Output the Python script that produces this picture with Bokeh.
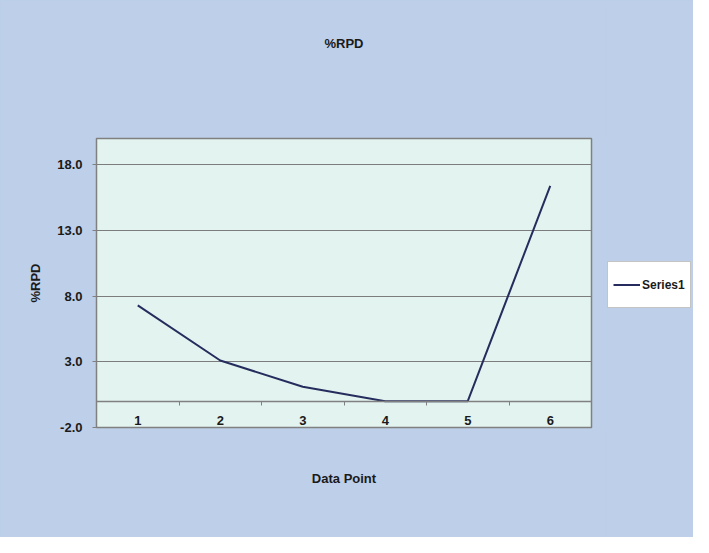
from bokeh.plotting import figure
from bokeh.layouts import row
from bokeh.models import FixedTicker, NumeralTickFormatter, LinearAxis, Legend, LegendItem, Range1d
from bokeh.embed import file_html
from bokeh.resources import INLINE

# ---- data ----
title_text = "%RPD"
x_title = "Data Point"
y_title = "%RPD"
series_name = "Series1"
data_points = [1, 2, 3, 4, 5, 6]
rpd_values = [7.3, 3.1, 1.1, 0.0, 0.0, 16.4]
y_ticks = [-2, 3, 8, 13, 18]

FONT = "Liberation Sans"
BG = "#bdcfe9"
PLOT_BG = "#e3f3ef"
GRID = "#7c7c7c"
LINE = "#262d5e"
TXT = "#1a1a1a"

p = figure(width=605, height=537, output_backend="svg", toolbar_location=None,
           x_range=Range1d(0.5, 6.5), y_range=Range1d(-2, 20),
           min_border_left=96, min_border_right=14, min_border_top=138, min_border_bottom=110)
p.background_fill_color = PLOT_BG
p.border_fill_color = BG
p.outline_line_color = "#808080"
p.outline_line_width = 1.5

r = p.line(data_points, rpd_values, line_color=LINE, line_width=2)

xa = p.xaxis[0]
ya = p.yaxis[0]


def label_axis(text, standoff):
    ax = LinearAxis(ticker=FixedTicker(ticks=[], minor_ticks=[]))
    ax.axis_line_color = None
    ax.major_tick_out = 0
    ax.major_tick_in = 0
    ax.minor_tick_out = 0
    ax.minor_tick_in = 0
    ax.major_label_standoff = 0
    ax.axis_label = text
    ax.axis_label_standoff = standoff
    ax.axis_label_text_font = FONT
    ax.axis_label_text_font_style = "bold"
    ax.axis_label_text_font_size = "13px"
    ax.axis_label_text_color = TXT
    return ax


# x axis drawn at y = 0
xa.fixed_location = 0
xa.ticker = FixedTicker(ticks=data_points, minor_ticks=[1.5, 2.5, 3.5, 4.5, 5.5])
xa.major_label_overrides = {v: str(v) for v in data_points}
xa.major_tick_in = 0
xa.major_tick_out = 0
xa.minor_tick_in = 0
xa.minor_tick_out = 4
xa.minor_tick_line_color = "#808080"
xa.axis_line_color = "#808080"
xa.axis_line_width = 1.5
xa.major_label_standoff = 11
xa.major_label_text_font = FONT
xa.major_label_text_font_style = "bold"
xa.major_label_text_font_size = "13px"
xa.major_label_text_color = TXT

ya.ticker = FixedTicker(ticks=y_ticks, minor_ticks=[])
ya.formatter = NumeralTickFormatter(format="0.0")
ya.major_tick_in = 0
ya.major_tick_out = 4
ya.major_tick_line_color = "#808080"
ya.axis_line_color = "#808080"
ya.major_label_standoff = 10
ya.major_label_text_font = FONT
ya.major_label_text_font_style = "bold"
ya.major_label_text_font_size = "13px"
ya.major_label_text_color = TXT
ya.axis_label = y_title
ya.axis_label_standoff = 11
ya.axis_label_text_font = FONT
ya.axis_label_text_font_style = "bold"
ya.axis_label_text_font_size = "13px"
ya.axis_label_text_color = TXT

# chart title (above) and x axis title (below)
p.add_layout(label_axis(title_text, 88), "above")
p.add_layout(label_axis(x_title, 43), "below")

p.xgrid.grid_line_color = None
p.ygrid.ticker = FixedTicker(ticks=y_ticks)
p.ygrid.grid_line_color = GRID
p.ygrid.grid_line_width = 1.2

# legend panel at the right (its frame is aligned with the main plot's frame)
q = figure(width=88, height=537, output_backend="svg", toolbar_location=None,
           x_range=Range1d(0, 1), y_range=Range1d(0, 1),
           min_border_left=0, min_border_right=0, min_border_top=0, min_border_bottom=0,
           x_axis_location=None, y_axis_location=None)
q.background_fill_color = None
q.border_fill_color = BG
q.outline_line_color = None
q.xgrid.visible = False
q.ygrid.visible = False
# legend swatch renderer (kept outside the visible range)
r_leg = q.line([-5, -4], [-5, -4], line_color=LINE, line_width=2)

legend = Legend(items=[LegendItem(label=series_name, renderers=[r_leg])], location=(2, 119))
legend.background_fill_color = "white"
legend.background_fill_alpha = 1
legend.border_line_color = "#8a8a8a"
legend.border_line_width = 1.2
legend.padding = 5
legend.margin = 0
legend.spacing = 0
legend.glyph_width = 27
legend.glyph_height = 35
legend.label_height = 35
legend.label_standoff = 2
legend.label_text_font = FONT
legend.label_text_font_style = "bold"
legend.label_text_font_size = "12px"
legend.label_text_color = TXT
q.add_layout(legend, "center")

layout = row(p, q, spacing=0, styles={"background-color": BG})
open("out.html", "w").write(file_html(layout, INLINE))
